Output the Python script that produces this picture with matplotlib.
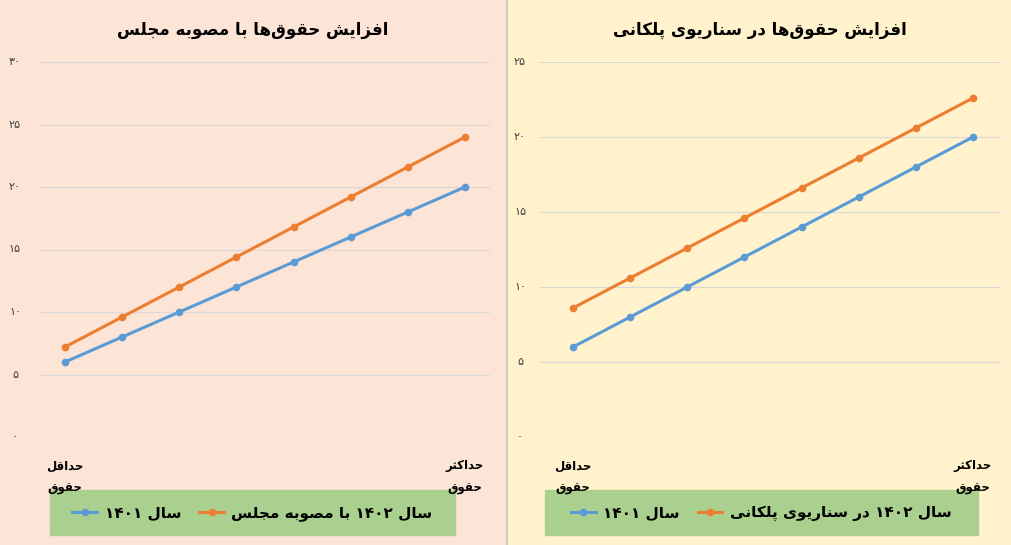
import matplotlib.pyplot as plt
from matplotlib.patches import Rectangle
from matplotlib.lines import Line2D

# --- minimal Arabic/Persian shaping (matplotlib has no RTL support) ---
FORMS = {
    'ا': 'ﺍﺎ', 'د': 'ﺩﺪ', 'ر': 'ﺭﺮ', 'ز': 'ﺯﺰ', 'و': 'ﻭﻮ',
    'ب': 'ﺏﺐﺑﺒ', 'ت': 'ﺕﺖﺗﺘ', 'ث': 'ﺙﺚﺛﺜ', 'ج': 'ﺝﺞﺟﺠ',
    'ح': 'ﺡﺢﺣﺤ', 'س': 'ﺱﺲﺳﺴ', 'ش': 'ﺵﺶﺷﺸ', 'ص': 'ﺹﺺﺻﺼ',
    'ف': 'ﻑﻒﻓﻔ', 'ق': 'ﻕﻖﻗﻘ', 'ل': 'ﻝﻞﻟﻠ', 'م': 'ﻡﻢﻣﻤ',
    'ن': 'ﻥﻦﻧﻨ', 'ه': 'ﻩﻪﻫﻬ', 'پ': 'ﭖﭗﭘﭙ', 'ک': 'ﮎﮏﮐﮑ',
    'ی': 'ﯼﯽﯾﯿ',
}


def shape(text):
    out = []
    for i, c in enumerate(text):
        if c not in FORMS:
            if c != '\u200c':
                out.append(c)
            continue
        f = FORMS[c]
        prev = text[i - 1] if i > 0 else ''
        nxt = text[i + 1] if i + 1 < len(text) else ''
        jp = prev in FORMS and len(FORMS[prev]) == 4
        jn = nxt in FORMS and len(f) == 4
        if jp and jn:
            out.append(f[3])
        elif jp:
            out.append(f[1])
        elif jn:
            out.append(f[2])
        else:
            out.append(f[0])
    s = ''.join(out)
    # reverse for visual order, keep digit runs left-to-right
    tokens, cur = [], ''
    for c in s:
        if c.isdigit():
            cur += c
        else:
            if cur:
                tokens.append(cur)
                cur = ''
            tokens.append(c)
    if cur:
        tokens.append(cur)
    return ''.join(reversed(tokens))


def fa_num(n):
    return str(n).translate(str.maketrans('0123456789', '۰۱۲۳۴۵۶۷۸۹'))


x = list(range(8))
left_1401 = [6, 8, 10, 12, 14, 16, 18, 20]
left_1402 = [7.2, 9.6, 12, 14.4, 16.8, 19.2, 21.6, 24]
right_1401 = [6, 8, 10, 12, 14, 16, 18, 20]
right_1402 = [8.6, 10.6, 12.6, 14.6, 16.6, 18.6, 20.6, 22.6]

titles = ['افزایش حقوق‌ها با مصوبه مجلس', 'افزایش حقوق‌ها در سناریوی پلکانی']
legend_1401 = 'سال ۱۴۰۱'
legend_1402 = ['سال ۱۴۰۲ با مصوبه مجلس', 'سال ۱۴۰۲ در سناریوی پلکانی']
x_first = 'حداقل\nحقوق'
x_last = 'حداکثر\nحقوق'

blue = '#5b9bd5'
orange = '#ed7d31'
W, H = 1012, 545

fig = plt.figure(figsize=(10.12, 5.45), dpi=100)
fig.patches.append(Rectangle((0, 0), 506 / W, 1, transform=fig.transFigure,
                             color='#fce4d6', zorder=-10))
fig.patches.append(Rectangle((508 / W, 0), 1 - 508 / W, 1, transform=fig.transFigure,
                             color='#fff2cc', zorder=-10))
fig.lines.append(Line2D([507 / W, 507 / W], [0, 1], transform=fig.transFigure,
                        color='#c8c8c8', lw=1.5))

panels = [
    dict(x0=40, x1=490, p0=65, p1=465, y=(left_1401, left_1402), ymax=30,
         tickx=15, title_x=253, leg=(50, 455)),
    dict(x0=540, x1=1000, p0=573, p1=973, y=(right_1401, right_1402), ymax=25,
         tickx=520, title_x=760, leg=(545, 978)),
]

for i, p in enumerate(panels):
    ax = fig.add_axes([p['x0'] / W, (H - 437) / H, (p['x1'] - p['x0']) / W, 375 / H])
    ax.set_facecolor('none')
    b, o = p['y']
    ax.plot(x, b, color=blue, lw=2.2, marker='o', ms=4.5)
    ax.plot(x, o, color=orange, lw=2.2, marker='o', ms=4.5)
    unit = (p['p1'] - p['p0']) / 7
    ax.set_xlim(-(p['p0'] - p['x0']) / unit, 7 + (p['x1'] - p['p1']) / unit)
    ax.set_ylim(0, p['ymax'])
    ax.set_yticks(range(0, p['ymax'] + 1, 5))
    ax.yaxis.grid(True, color='#d9d9d9', lw=0.8)
    ax.set_axisbelow(True)
    for s in ax.spines.values():
        s.set_visible(False)
    ax.tick_params(length=0, labelleft=False, labelbottom=False)
    for t in range(0, p['ymax'] + 1, 5):
        y_px = 437 - t * 375 / p['ymax']
        fig.text(p['tickx'] / W, 1 - y_px / H, fa_num(t), fontsize=8,
                 ha='center', va='center', color='#404040')
    for xi, lab in ((0, x_first), (7, x_last)):
        lines = lab.split('\n')
        ax.text(xi, -0.06, shape(lines[0]), transform=ax.get_xaxis_transform(),
                ha='center', va='top', fontsize=8.5, fontweight='bold')
        ax.text(xi, -0.12, shape(lines[1]), transform=ax.get_xaxis_transform(),
                ha='center', va='top', fontsize=8.5, fontweight='bold')
    fig.text(p['title_x'] / W, 1 - 30 / H, shape(titles[i]), ha='center',
             va='center', fontsize=12, fontweight='bold')
    l0, l1 = p['leg']
    fig.patches.append(Rectangle((l0 / W, 10 / H), (l1 - l0) / W, 45 / H,
                                 transform=fig.transFigure, color='#a9d08e', zorder=-5))
    h = [Line2D([], [], color=blue, lw=2.2, marker='o', ms=4.5),
         Line2D([], [], color=orange, lw=2.2, marker='o', ms=4.5)]
    fig.legend(h, [shape(legend_1401), shape(legend_1402[i])],
               loc='center', bbox_to_anchor=((l0 + l1) / 2 / W, 32 / H),
               ncol=2, frameon=False, prop=dict(weight='bold', size=11),
               handlelength=1.6, handletextpad=0.5, columnspacing=1.2)

fig.savefig('out.png', dpi=100)
